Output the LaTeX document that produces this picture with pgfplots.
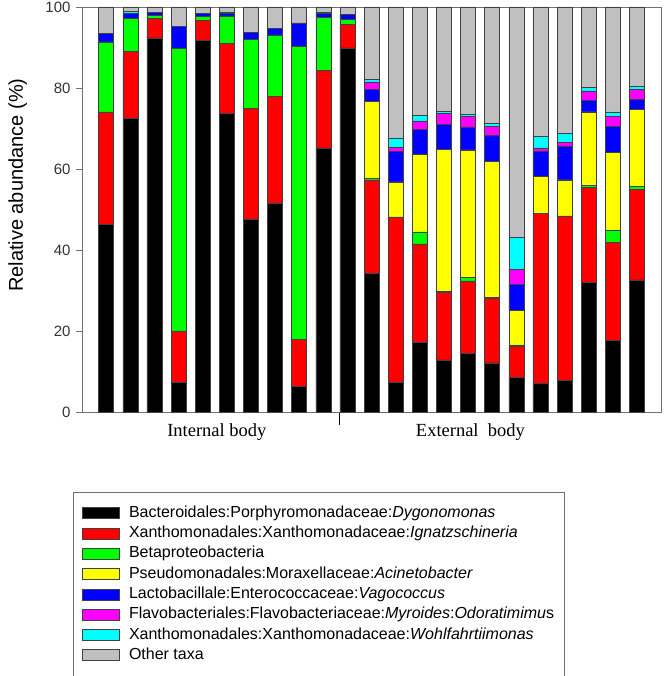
\documentclass[border=0pt]{standalone}
\usepackage{pgfplots}
\usepackage{pgfplotstable}
\pgfplotsset{compat=1.18}
\usepackage{fontspec}
\setmainfont{Liberation Sans}
\newfontfamily\timesfont{Liberation Serif}
\definecolor{cBlack}{HTML}{000000}
\definecolor{cRed}{HTML}{FF0000}
\definecolor{cGreen}{HTML}{00FF00}
\definecolor{cYellow}{HTML}{FFFF00}
\definecolor{cBlue}{HTML}{0000FF}
\definecolor{cMag}{HTML}{FF00FF}
\definecolor{cCyan}{HTML}{00FFFF}
\definecolor{cGray}{HTML}{C0C0C0}
\definecolor{axgray}{HTML}{707070}
\pgfplotstableread{
x   bk   rd   gr   ye   bl   mg   cy   gy
1   46.4 27.7 17.3 0    2.0  0    0    6.6
2   72.5 16.6 8.0  0    1.3  0    0.5  1.1
3   92.4 4.7  0.8  0    0.7  0    0    1.4
4   7.3  12.7 69.7 0    5.6  0    0    4.7
5   91.8 4.9  1.0  0    0.8  0    0    1.5
6   73.7 17.3 6.8  0    0.6  0    0.4  1.2
7   47.6 27.3 17.1 0    1.7  0    0    6.3
8   51.5 26.5 15.1 0    1.6  0    0    5.3
9   6.3  11.7 72.3 0    5.8  0    0    3.9
10  65.2 19.2 13.1 0    0.9  0    0.4  1.2
11  89.9 5.8  1.3  0    1.2  0    0    1.8
12  34.3 23.0 0.4  19.0 2.9  1.9  0.6  17.9
13  7.4  40.8 0    8.6  7.5  1.0  2.4  32.3
14  17.2 24.3 3.0  19.2 6.1  2.1  1.4  26.7
15  12.9 16.6 0.2  35.2 6.1  2.7  0.5  25.8
16  14.5 17.9 0.8  31.5 5.7  2.5  0.6  26.5
17  12.1 16.0 0.2  33.6 6.4  2.3  0.6  28.8
18  8.5  7.7  0.4  8.4  6.6  3.7  7.8  56.9
19  7.1  42.0 0    9.0  6.4  0.7  2.9  31.9
20  7.8  40.6 0    8.9  8.4  0.8  2.3  31.2
21  32.0 23.4 0.6  18.1 2.9  2.3  0.8  19.9
22  17.7 24.1 3.1  19.2 6.5  2.3  1.2  25.9
23  32.6 22.4 0.8  19.0 2.4  2.4  0.9  19.5
}\datatable
\begin{document}
\begin{tikzpicture}
\useasboundingbox (0,0) rectangle (663pt,676pt);
\begin{axis}[
  at={(82pt,264pt)}, anchor=south west,
  scale only axis, width=579pt, height=405pt,
  ybar stacked, bar width=15pt,
  xmin=0, xmax=24, ymin=0, ymax=100,
  xtick=\empty,
  ytick={0,20,40,60,80,100},
  ytick pos=left, tick align=outside,
  major tick length=6pt,
  axis line style={axgray, line width=0.8pt},
  tick style={axgray, line width=0.8pt},
  /pgf/number format/assume math mode=true,
  tick label style={font=\fontsize{15}{18}\selectfont, text=black!80},
  yticklabel style={xshift=-2pt},
  ylabel={Relative abundance (\%)},
  ylabel style={font=\fontsize{20}{24}\selectfont, at={(axis description cs:-0.111,0.56)}, anchor=center, rotate=0},
  every axis plot/.append style={draw=black!75, line width=0.5pt},
  area legend,
  legend image code/.code={\draw[#1, draw=black!75, line width=0.6pt] (0pt,-5.5pt) rectangle (37pt,5.5pt);},
  legend cell align=left,
  legend style={at={(axis description cs:-0.0155,-0.1975)}, anchor=north west,
    draw=axgray, line width=0.8pt, font=\fontsize{16}{19}\selectfont,
    inner xsep=9pt, inner ysep=12pt, row sep=2.8pt,
    nodes={inner sep=1pt, text height=12pt, text depth=3.5pt},
    /tikz/every odd column/.append style={column sep=8pt}},
  clip=false,
]
\addplot[fill=cBlack] table[x=x,y=bk]{\datatable};
\addplot[fill=cRed] table[x=x,y=rd]{\datatable};
\addplot[fill=cGreen] table[x=x,y=gr]{\datatable};
\addplot[fill=cYellow] table[x=x,y=ye]{\datatable};
\addplot[fill=cBlue] table[x=x,y=bl]{\datatable};
\addplot[fill=cMag] table[x=x,y=mg]{\datatable};
\addplot[fill=cCyan] table[x=x,y=cy]{\datatable};
\addplot[fill=cGray] table[x=x,y=gy]{\datatable};
\legend{Bacteroidales:Porphyromonadaceae:\textit{Dygonomonas},
Xanthomonadales:Xanthomonadaceae:\textit{Ignatzschineria},
Betaproteobacteria,
Pseudomonadales:Moraxellaceae:\textit{Acinetobacter},
Lactobacillale:Enterococcaceae:\textit{Vagococcus},
Flavobacteriales:Flavobacteriaceae:\textit{Myroides}:\textit{Odoratimimu}s,
Xanthomonadales:Xanthomonadaceae:\textit{Wohlfahrtiimonas},
Other taxa}
\draw[black, line width=1pt] (axis cs:10.69,0) ++(0,-1pt) -- ++(0,-12pt);
\node[font=\timesfont\fontsize{18.5}{22}\selectfont] at ([yshift=-20pt]axis cs:5.59,0) {Internal body};
\node[font=\timesfont\fontsize{18.5}{22}\selectfont] at ([yshift=-20pt]axis cs:16.1,0) {External\ \ body};
\end{axis}
\end{tikzpicture}
\end{document}
